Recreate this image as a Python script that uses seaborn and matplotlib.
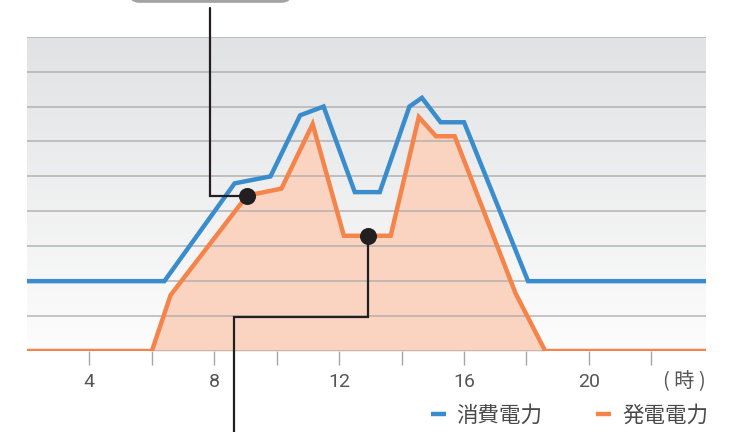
import numpy as np
import pandas as pd
import seaborn as sns
import matplotlib
matplotlib.use("Agg")
import matplotlib.pyplot as plt
from matplotlib.patches import FancyBboxPatch

# --------------------------------------------------------------------------- #
# Data
# --------------------------------------------------------------------------- #
HOURS_USE = [2, 6.4, 8.65, 9.8, 10.75, 11.5, 12.5, 13.3, 14.25, 14.65, 15.25, 16.0, 18.05, 23.75]
POWER_USE = [2, 2, 4.8, 5.0, 6.75, 7.0, 4.55, 4.55, 7.0, 7.25, 6.55, 6.55, 2, 2]

HOURS_GEN = [2, 6.0, 6.6, 9.05, 10.15, 11.15, 12.15, 13.65, 14.55, 15.1, 15.7, 17.65, 18.6, 23.75]
POWER_GEN = [0, 0, 1.6, 4.45, 4.65, 6.5, 3.3, 3.3, 6.7, 6.15, 6.15, 1.65, 0, 0]

TICK_HOURS = [4, 6, 8, 10, 12, 14, 16, 18, 20, 22]
TICK_LABELS = ["4", "", "8", "", "12", "", "16", "", "20", ""]

LABEL_USE = "消費電力"
LABEL_GEN = "発電電力"
UNIT_LABEL = "( 時 )"

# callout markers
MARK_HOURS = [9.05, 12.93]
MARK_VALUES = [4.45, 3.3]

BLUE = "#3A8DCD"
ORANGE = "#F5844A"
FILL = "#FBD3C1"

# --------------------------------------------------------------------------- #
# Style
# --------------------------------------------------------------------------- #
sns.set_theme(style="white")
plt.rcParams["font.family"] = ["Noto Sans CJK JP", "DejaVu Sans"]

fig = plt.figure(figsize=(7.34, 4.32), dpi=100)
ax = fig.add_axes([27 / 734, 81 / 432, 679 / 734, 314.3 / 432])

XMIN, XMAX, YMIN, YMAX = 2, 23.75, 0, 9

# gradient background: light grey at top -> white at bottom
grad = np.linspace(1, 0, 256).reshape(-1, 1)
bg = matplotlib.colors.LinearSegmentedColormap.from_list("bg", ["#E1E2E4", "#FDFDFD"])
ax.imshow(grad, extent=[XMIN, XMAX, YMIN, YMAX], aspect="auto", cmap=bg,
          zorder=0, origin="lower")

# fill under the generation curve
ax.fill_between(HOURS_GEN, POWER_GEN, 0, color=FILL, lw=0, zorder=1)

# horizontal grid
for v in range(YMIN, YMAX + 1):
    ax.axhline(v, color="#A9A9A9", lw=1.1, alpha=0.85, zorder=1.5)

df_use = pd.DataFrame({"hour": HOURS_USE, "kw": POWER_USE})
df_gen = pd.DataFrame({"hour": HOURS_GEN, "kw": POWER_GEN})
sns.lineplot(data=df_use, x="hour", y="kw", ax=ax, color=BLUE, lw=3.2,
             sort=False, estimator=None, label=LABEL_USE, zorder=3,
             solid_joinstyle="miter")
sns.lineplot(data=df_gen, x="hour", y="kw", ax=ax, color=ORANGE, lw=3.2,
             sort=False, estimator=None, label=LABEL_GEN, zorder=3,
             solid_joinstyle="miter")

# callout lines
CALL = "#231F20"
ax.plot([7.87, 7.87, MARK_HOURS[0]], [9.83, MARK_VALUES[0], MARK_VALUES[0]],
        color=CALL, lw=1.6, clip_on=False, zorder=4, solid_joinstyle="miter")
ax.plot([MARK_HOURS[1], MARK_HOURS[1], 8.64, 8.64], [MARK_VALUES[1], 0.966, 0.966, -2.6],
        color=CALL, lw=1.6, clip_on=False, zorder=4, solid_joinstyle="miter")
ax.scatter(MARK_HOURS, MARK_VALUES, s=150, color=CALL, zorder=5, clip_on=False, lw=0)

# grey label box cut off at the top
box = FancyBboxPatch((5.25, 9.97), 5.25, 1.5, boxstyle="round,pad=0,rounding_size=0.35",
                     fc="#A3A3A3", ec="none", clip_on=False, zorder=4,
                     mutation_aspect=31.25 / 34.9)
ax.add_patch(box)

ax.set_xlim(XMIN, XMAX)
ax.set_ylim(YMIN, YMAX)
ax.set_xticks(TICK_HOURS)
ax.set_xticklabels(TICK_LABELS, family="Roboto", fontsize=14, color="#555555")
ax.set_yticks([])
ax.tick_params(axis="x", direction="out", length=10, width=1, color="#A5A5A5",
               pad=6, bottom=True)
ax.set_xlabel("")
ax.set_ylabel("")
for s in ax.spines.values():
    s.set_visible(False)

ax.text(XMAX, -0.87, UNIT_LABEL, ha="right", va="center", fontsize=14.5, color="#555555")

ax.legend().remove()
handles, labels = ax.get_legend_handles_labels()
for h in handles:
    h.set_solid_capstyle("butt")
fig.legend(handles, labels, loc="lower right", bbox_to_anchor=(719 / 734, -0.012),
           ncol=2, frameon=False, fontsize=15.5, handlelength=0.7,
           handletextpad=0.5, columnspacing=2.5, borderpad=0, labelcolor="#4A4A4A")

fig.savefig("out.png", dpi=100)
